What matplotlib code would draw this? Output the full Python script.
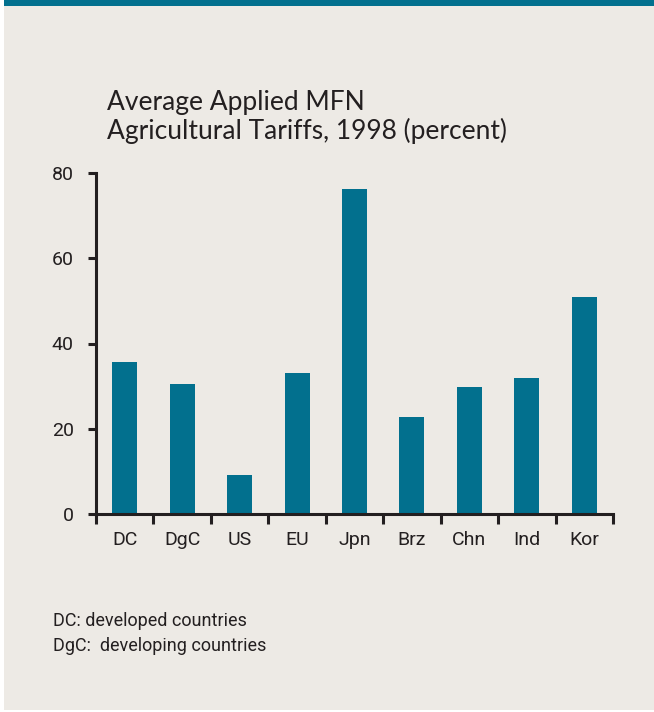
import matplotlib
matplotlib.use("Agg")
import matplotlib.pyplot as plt
from matplotlib.patches import Rectangle

# ── DATA ──────────────────────────────────────────────────────────────────────
countries = ["DC", "DgC", "US", "EU", "Jpn", "Brz", "Chn", "Ind", "Kor"]
tariffs = [35.6, 30.4, 9.1, 33.0, 76.3, 22.7, 29.7, 31.8, 51.0]
y_ticks = [0, 20, 40, 60, 80]
notes = ["DC: developed countries", "DgC:  developing countries"]

# ── STYLE ─────────────────────────────────────────────────────────────────────
PAGE = "#edeae5"
TEAL = "#02708e"
INK = "#231f20"
NARROW = ["DejaVu Sans Condensed", "Liberation Sans Narrow", "Roboto", "DejaVu Sans"]

fig = plt.figure(figsize=(6.54, 7.12), dpi=100, facecolor="white")
fig.patches.append(Rectangle((4 / 654, 2 / 712), 650 / 654, 704 / 712,
                             transform=fig.transFigure, facecolor=PAGE,
                             edgecolor="none", zorder=-2))
fig.patches.append(Rectangle((4 / 654, 706 / 712), 650 / 654, 6 / 712,
                             transform=fig.transFigure, facecolor=TEAL,
                             edgecolor="none", zorder=-1))

ax = fig.add_axes([96 / 654, 1 - 514 / 712, 517 / 654, 341 / 712])
ax.set_facecolor("none")

x = list(range(len(countries)))
ax.bar(x, tariffs, width=0.435, color=TEAL, edgecolor="none")

ax.set_xlim(-0.5, len(countries) - 0.5)
ax.set_ylim(0, 80)

for side in ["top", "right"]:
    ax.spines[side].set_visible(False)
for side in ["left", "bottom"]:
    ax.spines[side].set_color(INK)
    ax.spines[side].set_linewidth(2.2)

ax.set_yticks(y_ticks)
ax.set_yticklabels([str(v) for v in y_ticks], family=NARROW, fontsize=14,
                   stretch="condensed", color=INK)
ax.tick_params(axis="y", direction="out", length=6, width=2.2, color=INK, pad=10)

ax.set_xticks([i - 0.5 for i in range(len(countries) + 1)])
ax.set_xticklabels([])
ax.tick_params(axis="x", which="major", direction="out", length=7, width=2.2, color=INK)
ax.set_xticks(x, minor=True)
ax.set_xticklabels(countries, minor=True, family=NARROW, fontsize=14,
                   stretch="condensed", color=INK)
ax.tick_params(axis="x", which="minor", length=0, pad=12)

fig.text(107 / 654, 1 - 117 / 712, "Average Applied MFN\nAgricultural Tariffs, 1998 (percent)",
         family=["Lato", "DejaVu Sans"], fontsize=19, color=INK,
         ha="left", va="center", linespacing=1.15)

fig.text(53 / 654, 1 - 621 / 712, notes[0], family=NARROW, fontsize=13,
         stretch="condensed", color=INK, ha="left", va="center")
fig.text(53 / 654, 1 - 646 / 712, notes[1], family=NARROW, fontsize=13,
         stretch="condensed", color=INK, ha="left", va="center")

fig.savefig("out.png", dpi=100, facecolor="white")
